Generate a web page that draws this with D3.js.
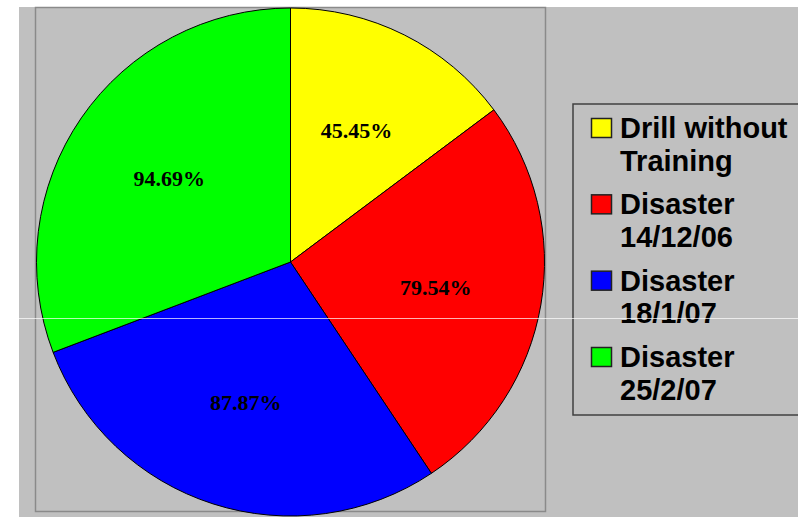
<!DOCTYPE html>
<html><head><meta charset="utf-8">
<script src="https://cdn.jsdelivr.net/npm/d3@7"></script>
<style>body{margin:0;background:#fff}svg{display:block}</style>
</head><body>
<svg id="c" width="798" height="517"></svg>
<script>
const categories = ["Drill without Training", "Disaster 14/12/06", "Disaster 18/1/07", "Disaster 25/2/07"];
const legendLines = [["Drill without", "Training"], ["Disaster", "14/12/06"], ["Disaster", "18/1/07"], ["Disaster", "25/2/07"]];
const values = [45.45, 79.54, 87.87, 94.69];
const labels = ["45.45%", "79.54%", "87.87%", "94.69%"];
const colors = ["#ffff00", "#ff0000", "#0000ff", "#00ff00"];

const svg = d3.select("#c");
// background
svg.append("rect").attr("x", 19).attr("y", 7).attr("width", 779).attr("height", 510).attr("fill", "#c0c0c0");
// plot area border
svg.append("rect").attr("x", 35.5).attr("y", 7.5).attr("width", 510).attr("height", 504)
  .attr("fill", "none").attr("stroke", "#8a8a8a").attr("stroke-width", 1.5);

const cx = 290.5, cy = 262, r = 254;
const pie = d3.pie().sort(null).value(d => d)(values);
const arc = d3.arc().innerRadius(0).outerRadius(r);
const labelArc = d3.arc().innerRadius(r * 0.58).outerRadius(r * 0.58);
const g = svg.append("g").attr("transform", `translate(${cx},${cy})`);
g.selectAll("path").data(pie).join("path")
  .attr("d", arc).attr("fill", (d, i) => colors[i])
  .attr("stroke", "#000").attr("stroke-width", 1);
g.selectAll("text").data(pie).join("text")
  .attr("transform", d => `translate(${labelArc.centroid(d)})`)
  .attr("text-anchor", "middle").attr("dy", "0.35em")
  .attr("font-family", "'Liberation Serif','Times New Roman',serif")
  .attr("font-weight", "bold").attr("font-size", 22).attr("fill", "#000")
  .text((d, i) => labels[i]);

// legend
svg.append("rect").attr("x", 573).attr("y", 104).attr("width", 240).attr("height", 311)
  .attr("fill", "#c0c0c0").attr("stroke", "#404040").attr("stroke-width", 1.5);
const ly = d3.scaleLinear().domain([0, 3]).range([138, 367]);
const lg = svg.append("g");
categories.forEach((c, i) => {
  const y = ly(i);
  lg.append("rect").attr("x", 591.5).attr("y", y - 19.5).attr("width", 20).attr("height", 19)
    .attr("fill", colors[i]).attr("stroke", "#222").attr("stroke-width", 1.5);
  const t = lg.append("text").attr("x", 620).attr("y", y)
    .attr("font-family", "'Liberation Sans',Arial,sans-serif").attr("font-weight", "bold")
    .attr("font-size", 29).attr("fill", "#000");
  legendLines[i].forEach((line, j) => {
    t.append("tspan").attr("x", 620).attr("y", y + j * 32.5).text(line);
  });
});
// scan artifact line
svg.append("line").attr("x1", 19).attr("x2", 798).attr("y1", 318.5).attr("y2", 318.5)
  .attr("stroke", "#ffffff").attr("stroke-opacity", 0.7).attr("stroke-width", 1);
</script>
</body></html>
